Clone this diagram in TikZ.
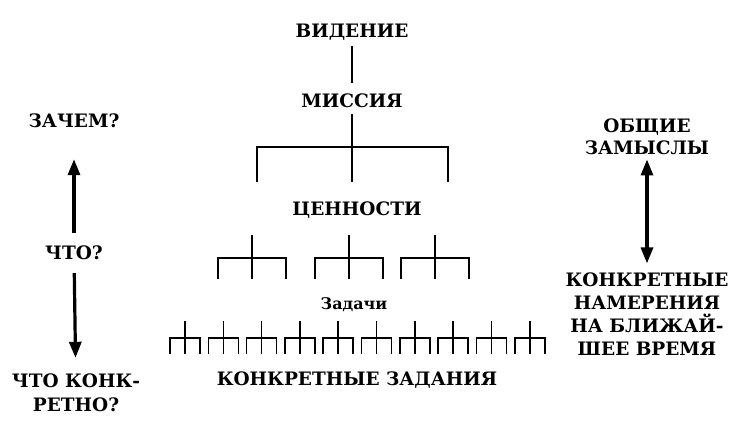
\documentclass[tikz,border=0pt]{standalone}
\usepackage{fontspec}
\setmainfont{DejaVu Serif}
\usepackage{tikz}
\usetikzlibrary{arrows.meta,positioning}
\tikzset{
  lbl/.style={font=\bfseries\fontsize{18.5}{23}\selectfont,align=center,
              inner sep=1pt},
  sml/.style={font=\bfseries\fontsize{16}{18}\selectfont,inner sep=1pt},
  ln/.style={line width=1.8pt},
  brk/.style={line width=2.2pt},
  sbrk/.style={line width=1.6pt},
  arr/.style={line width=3.2pt,-{Triangle[length=16pt,width=12pt]}},
  darr/.style={line width=3.2pt,{Triangle[length=16pt,width=12pt]}-{Triangle[length=16pt,width=12pt]}},
}

\begin{document}
\begin{tikzpicture}[x=1pt,y=-1pt]
\useasboundingbox (0,0) rectangle (753,436);
% centre: hierarchy
\node[lbl] (vis) at (352,32) {ВИДЕНИЕ};
\node[lbl] (mis) at (352,101) {МИССИЯ};
\node[lbl] (val) at (357,210) {ЦЕННОСТИ};
\node[sml] (tsk) at (354,305) {Задачи};
\node[lbl] (job) at (357,380) {КОНКРЕТНЫЕ ЗАДАНИЯ};
\coordinate (mhub) at (352,147);
\draw[ln,shorten <=5pt,shorten >=10pt] (vis) -- (mis);
\draw[brk,shorten <=5pt] (mis) -- (mhub) -- ++(0,35);
\draw[brk] (257,182) |- (mhub) -| (448,182);
\foreach \c in {252,349,435}{
  \draw[brk] (\c,235) -- (\c,279) (\c-34,279) |- (\c,258) -| (\c+34,279);
}
\foreach \i in {0,...,9}{
  \draw[sbrk] ({185+38.3*\i},321) -- ++(0,33)
    ({170+38.3*\i},354) |- ({185+38.3*\i},338) -| ({200+38.3*\i},354);
}
% left: why / what
\node[lbl] (why) at (74,121) {ЗАЧЕМ?};
\node[lbl] (wht) at (74,253) {ЧТО?};
\node[lbl,font=\bfseries\fontsize{18.5}{24}\selectfont] (how) at (76,393)
  {ЧТО КОНК-\\РЕТНО?};
\draw[arr,shorten <=12pt,shorten >=30pt] (wht) -- (why);
\draw[arr,shorten <=12pt,shorten >=15pt] (wht) -- (how);
% right: general / concrete
\node[lbl,font=\bfseries\fontsize{18.5}{22.5}\selectfont] (gen) at (647,137)
  {ОБЩИЕ\\ЗАМЫСЛЫ};
\node[lbl,font=\bfseries\fontsize{18.5}{23}\selectfont] (spc) at (647,314)
  {КОНКРЕТНЫЕ\\НАМЕРЕНИЯ\\НА БЛИЖАЙ-\\ШЕЕ ВРЕМЯ};
\draw[darr,shorten <=3pt,shorten >=8pt] (gen) -- (spc);
\end{tikzpicture}
\end{document}
